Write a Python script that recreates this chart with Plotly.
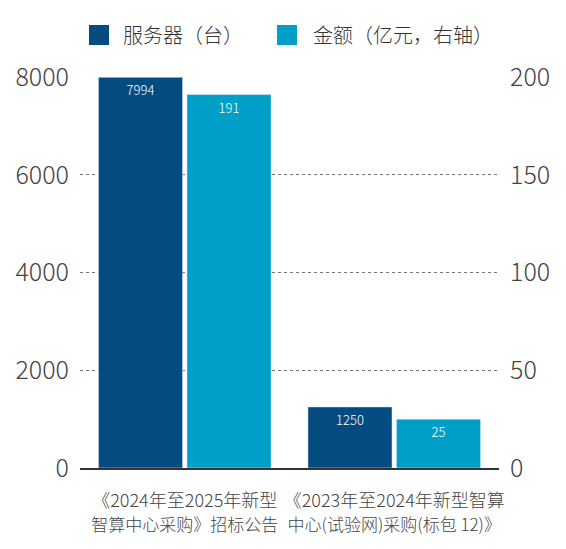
import plotly.graph_objects as go

categories = [
    "《2024年至2025年新型<br>智算中心采购》招标公告",
    "《2023年至2024年新型智算<br>中心(试验网)采购(标包 12)》",
]
servers = [7994, 1250]
amounts = [191, 25]
legend_names = ["服务器（台）", "金额（亿元，右轴）"]

dark = "#034b81"
light = "#009fc7"
font_family = "Noto Sans CJK SC"

# the page puts the figure 8px in from the top-left corner
OFF = 8
W, H = 566 - OFF, 549 - OFF
L, T = 80 - OFF, 77 - OFF
R, B = W - (499 - OFF), H - (468 - OFF)
pw, ph = W - L - R, H - T - B


def px_x(x):
    return (x - OFF - L) / pw


def px_y(y):
    return (H - B - (y - OFF)) / ph


# second line of each label a touch smaller so the two labels don't touch
tick_text = []
for c in categories:
    first, second = c.split("<br>")
    tick_text.append(f'{first}<br><span style="font-size:17px">{second}</span>')

fig = go.Figure()
fig.add_trace(go.Bar(
    x=categories, y=servers, name=legend_names[0], marker_color=dark,
    offsetgroup="a", yaxis="y",
    texttemplate="%{y}", textposition="inside", insidetextanchor="end",
    textangle=0, textfont=dict(color="white", size=13, family=font_family),
))
fig.add_trace(go.Bar(
    x=categories, y=amounts, name=legend_names[1], marker_color=light,
    offsetgroup="b", yaxis="y2",
    texttemplate="%{y}", textposition="inside", insidetextanchor="end",
    textangle=0, textfont=dict(color="white", size=13, family=font_family),
))

# legend drawn by hand so the swatches can be big squares
shapes = []
annotations = []
for sx, tx, col, name in [(89, 121, dark, legend_names[0]), (277, 311, light, legend_names[1])]:
    shapes.append(dict(type="rect", xref="paper", yref="paper",
                       x0=px_x(sx), x1=px_x(sx + 20), y0=px_y(45), y1=px_y(25),
                       fillcolor=col, line_width=0))
    annotations.append(dict(xref="paper", yref="paper", x=px_x(tx), y=px_y(35),
                            text=name, showarrow=False, xanchor="left", yanchor="middle",
                            font=dict(size=20, color="#333", family=font_family, weight=300)))

fig.update_layout(
    width=W, height=H,
    margin=dict(l=L, r=R, t=T, b=B),
    paper_bgcolor="white", plot_bgcolor="white",
    barmode="group", bargap=0.155, bargroupgap=0.05,
    showlegend=False,
    shapes=shapes, annotations=annotations,
    font=dict(family=font_family, color="#444", weight=300),
    xaxis=dict(
        showline=True, linecolor="#333", linewidth=1.5,
        tickvals=categories, ticktext=tick_text,
        tickfont=dict(size=18, color="#444"), ticklabelstandoff=16,
        tickangle=0, showgrid=False, automargin=False,
    ),
    yaxis=dict(
        range=[0, 8000], tickvals=[0, 2000, 4000, 6000, 8000],
        showgrid=True, gridcolor="#777", griddash="dot", gridwidth=1,
        zeroline=False, tickfont=dict(size=25, color="#444"),
        ticklabelstandoff=10, automargin=False,
    ),
    yaxis2=dict(
        range=[0, 200], tickvals=[0, 50, 100, 150, 200],
        overlaying="y", side="right", showgrid=False, zeroline=False,
        tickfont=dict(size=25, color="#444"), ticklabelstandoff=10,
        automargin=False,
    ),
)

fig.write_html("out.html")
